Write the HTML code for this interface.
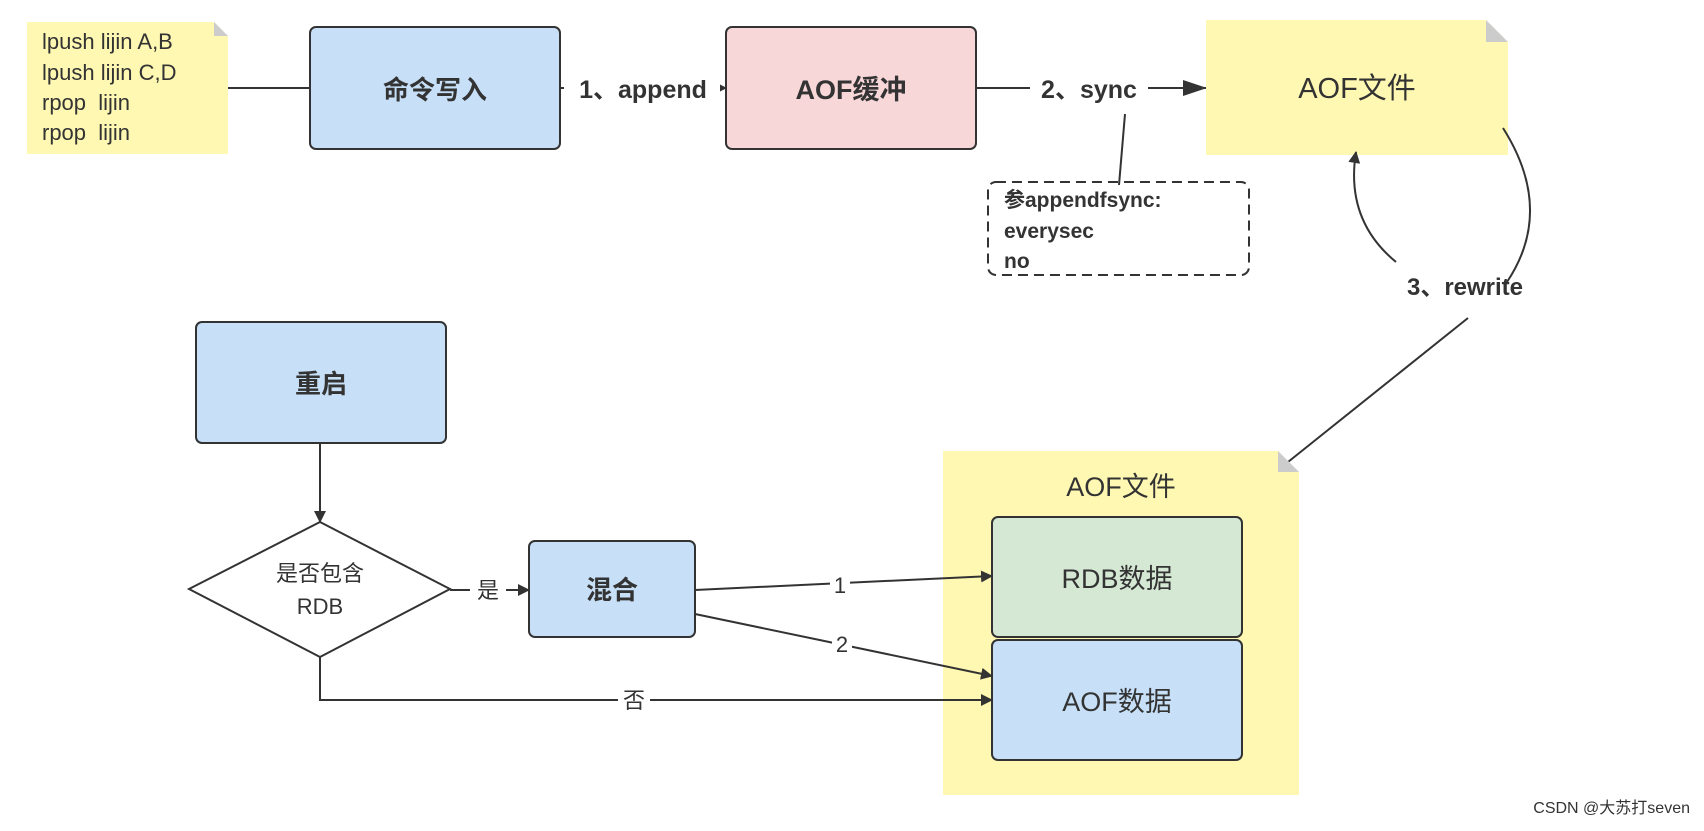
<!DOCTYPE html>
<html><head><meta charset="utf-8"><style>
body{margin:0;background:#fff;}
svg text{font-family:"Liberation Sans","Noto Sans CJK SC",sans-serif;fill:#333;}
</style></head><body>
<svg width="1704" height="826" viewBox="0 0 1704 826" xmlns="http://www.w3.org/2000/svg">
<defs><marker id="a" markerWidth="12" markerHeight="12" refX="11" refY="6" orient="auto" markerUnits="userSpaceOnUse"><path d="M0,0 L12,6 L0,12z" fill="#333"/></marker>
<marker id="b" markerWidth="24" markerHeight="16" refX="23" refY="8" orient="auto" markerUnits="userSpaceOnUse"><path d="M0,0 L24,8 L0,16z" fill="#333"/></marker></defs>
<path d="M27,22 H214 L228,36 V154 H27z" fill="#fff8b3"/>
<path d="M214,22 L228,36 H214z" fill="#ccc"/>
<g font-size="22" fill="#444">
<text x="42" y="49">lpush lijin A,B</text>
<text x="42" y="80">lpush lijin C,D</text>
<text x="42" y="110">rpop&#160; lijin</text>
<text x="42" y="140">rpop&#160; lijin</text></g>
<line x1="228" y1="88" x2="310" y2="88" stroke="#333" stroke-width="2"/>
<rect x="310" y="27" width="250" height="122" rx="6" fill="#c7e0f8" stroke="#333" stroke-width="2"/>
<text x="435" y="99" font-size="26" font-weight="bold" text-anchor="middle">命令写入</text>
<line x1="560" y1="88" x2="726" y2="88" stroke="#333" stroke-width="2" marker-end="url(#a)"/>
<rect x="564" y="70" width="156" height="34" fill="#fff"/>
<text x="643" y="98" font-size="25" font-weight="bold" text-anchor="middle">1、append</text>
<rect x="726" y="27" width="250" height="122" rx="6" fill="#f8d7d9" stroke="#333" stroke-width="2"/>
<text x="851" y="99" font-size="27" font-weight="bold" text-anchor="middle">AOF缓冲</text>
<line x1="976" y1="88" x2="1206" y2="88" stroke="#333" stroke-width="2" marker-end="url(#b)"/>
<rect x="1030" y="70" width="118" height="34" fill="#fff"/>
<text x="1089" y="98" font-size="25" font-weight="bold" text-anchor="middle">2、sync</text>
<path d="M1206,20 H1486 L1508,42 V155 H1206z" fill="#fff8b3"/>
<path d="M1486,20 L1508,42 H1486z" fill="#ccc"/>
<text x="1357" y="98" font-size="29" text-anchor="middle">AOF文件</text>
<line x1="1125" y1="114" x2="1119" y2="185" stroke="#333" stroke-width="2"/>
<rect x="988" y="182" width="261" height="93" rx="8" fill="none" stroke="#333" stroke-width="2" stroke-dasharray="10,6"/>
<g font-size="21" font-weight="bold"><text x="1004" y="207">参appendfsync:</text><text x="1004" y="238">everysec</text><text x="1004" y="268">no</text></g>
<path d="M1503,128 Q1555,210 1507,282" fill="none" stroke="#333" stroke-width="2"/>
<path d="M1396,262 Q1345,220 1356,152" fill="none" stroke="#333" stroke-width="2" marker-end="url(#a)"/>
<text x="1465" y="295" font-size="24" font-weight="bold" text-anchor="middle">3、rewrite</text>
<line x1="1468" y1="318" x2="1288" y2="462" stroke="#333" stroke-width="2"/>
<rect x="196" y="322" width="250" height="121" rx="6" fill="#c7e0f8" stroke="#333" stroke-width="2"/>
<text x="321" y="393" font-size="26" font-weight="bold" text-anchor="middle">重启</text>
<line x1="320" y1="443" x2="320" y2="522" stroke="#333" stroke-width="2" marker-end="url(#a)"/>
<path d="M320,522 L450,589 L320,657 L189,589z" fill="#fff" stroke="#333" stroke-width="2"/>
<text x="320" y="581" font-size="22" text-anchor="middle">是否包含</text>
<text x="320" y="614" font-size="22" text-anchor="middle">RDB</text>
<line x1="450" y1="590" x2="529" y2="590" stroke="#333" stroke-width="2" marker-end="url(#a)"/>
<rect x="470" y="576" width="36" height="28" fill="#fff"/>
<text x="488" y="598" font-size="22" text-anchor="middle">是</text>
<rect x="529" y="541" width="166" height="96" rx="6" fill="#c7e0f8" stroke="#333" stroke-width="2"/>
<text x="612" y="599" font-size="26" font-weight="bold" text-anchor="middle">混合</text>
<path d="M943,451 H1278 L1299,472 V795 H943z" fill="#fff8b3"/>
<path d="M1278,451 L1299,472 H1278z" fill="#ccc"/>
<text x="1121" y="496" font-size="27" text-anchor="middle">AOF文件</text>
<rect x="992" y="517" width="250" height="120" rx="6" fill="#d5e8d4" stroke="#333" stroke-width="2"/>
<text x="1117" y="588" font-size="27" text-anchor="middle">RDB数据</text>
<rect x="992" y="640" width="250" height="120" rx="6" fill="#c7e0f8" stroke="#333" stroke-width="2"/>
<text x="1117" y="711" font-size="27" text-anchor="middle">AOF数据</text>
<line x1="695" y1="590" x2="992" y2="576" stroke="#333" stroke-width="2" marker-end="url(#a)"/>
<rect x="830" y="572" width="20" height="26" fill="#fff"/>
<text x="840" y="593" font-size="22" text-anchor="middle">1</text>
<line x1="695" y1="614" x2="992" y2="676" stroke="#333" stroke-width="2" marker-end="url(#a)"/>
<rect x="832" y="630" width="20" height="26" fill="#fff"/>
<text x="842" y="652" font-size="22" text-anchor="middle">2</text>
<polyline points="320,657 320,700 992,700" fill="none" stroke="#333" stroke-width="2" marker-end="url(#a)"/>
<rect x="618" y="686" width="32" height="28" fill="#fff"/>
<text x="634" y="708" font-size="22" text-anchor="middle">否</text>
<text x="1690" y="813" font-size="16" text-anchor="end" fill="#555">CSDN @大苏打seven</text>
</svg>
</body></html>
